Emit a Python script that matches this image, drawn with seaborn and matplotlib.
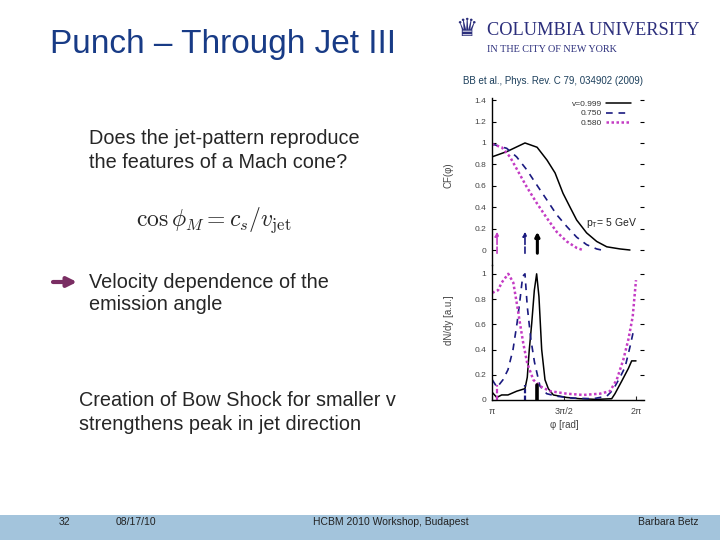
import numpy as np
import pandas as pd
import matplotlib
matplotlib.use("Agg")
import matplotlib.pyplot as plt
from matplotlib.patches import Rectangle
import seaborn as sns

# ---------------- data (phi in units of pi) ----------------
series_labels = ["v=0.999", "0.750", "0.580"]

# top panel: CF(phi)
top_phi_999 = [1.000, 1.104, 1.229, 1.313, 1.382, 1.438, 1.493, 1.542, 1.588, 1.657, 1.727, 1.797, 1.889, 1.958]
top_val_999 = [0.87, 0.92, 1.00, 0.96, 0.84, 0.72, 0.53, 0.40, 0.28, 0.16, 0.08, 0.03, 0.01, 0.00]
top_phi_750 = [1.000, 1.102, 1.171, 1.241, 1.310, 1.380, 1.449, 1.519, 1.588, 1.657, 1.727, 1.760]
top_val_750 = [0.99, 0.95, 0.87, 0.75, 0.61, 0.47, 0.33, 0.22, 0.12, 0.05, 0.01, 0.00]
top_phi_580 = [1.000, 1.067, 1.125, 1.183, 1.241, 1.310, 1.380, 1.449, 1.519, 1.588, 1.630]
top_val_580 = [0.99, 0.96, 0.87, 0.73, 0.59, 0.44, 0.30, 0.17, 0.08, 0.02, 0.00]

# bottom panel: dN/dy
bot_phi_999 = [1.002, 1.033, 1.067, 1.111, 1.172, 1.229, 1.245, 1.259, 1.276, 1.294, 1.310, 1.326,
               1.345, 1.368, 1.391, 1.426, 1.519, 1.611, 1.727, 1.831, 1.854, 1.901, 1.947, 1.970, 2.000]
bot_val_999 = [0.06, 0.02, 0.04, 0.04, 0.07, 0.09, 0.18, 0.40, 0.61, 0.87, 1.00, 0.82,
               0.40, 0.16, 0.09, 0.04, 0.02, 0.01, 0.005, 0.01, 0.05, 0.15, 0.25, 0.31, 0.31]
bot_phi_750 = [1.002, 1.035, 1.076, 1.111, 1.146, 1.174, 1.194, 1.213, 1.229, 1.245, 1.270, 1.295,
               1.313, 1.333, 1.380, 1.449, 1.563, 1.701, 1.797, 1.840, 1.889, 1.924, 1.958, 1.979]
bot_val_750 = [0.16, 0.10, 0.16, 0.24, 0.40, 0.61, 0.79, 0.98, 1.00, 0.74, 0.48, 0.30,
               0.21, 0.11, 0.05, 0.03, 0.015, 0.01, 0.03, 0.08, 0.18, 0.26, 0.42, 0.53]
bot_phi_580 = [1.002, 1.042, 1.067, 1.113, 1.148, 1.176, 1.194, 1.217, 1.245, 1.287, 1.333, 1.403,
               1.519, 1.634, 1.750, 1.819, 1.866, 1.912, 1.947, 1.977, 2.000]
bot_val_580 = [0.85, 0.87, 0.93, 1.00, 0.93, 0.74, 0.61, 0.45, 0.29, 0.16, 0.11, 0.07,
               0.05, 0.04, 0.05, 0.07, 0.16, 0.32, 0.48, 0.66, 0.95]

# Mach-angle markers (phi / pi)
mach_pos = [1.315, 1.229, 1.035]

top_yticks = [0, 0.2, 0.4, 0.6, 0.8, 1, 1.2, 1.4]
bot_yticks = [0, 0.2, 0.4, 0.6, 0.8, 1]
x_ticks = [1.0, 1.5, 2.0]
x_ticklabels = ["π", "3π/2", "2π"]

# ---------------- style ----------------
sns.set_theme(style="white")
plt.rcParams["font.family"] = ["Liberation Sans", "DejaVu Sans"]
plt.rcParams["mathtext.fontset"] = "cm"

W, H = 720, 540
fig = plt.figure(figsize=(7.2, 5.4), dpi=100)
fig.patch.set_facecolor("white")


def fx(x):
    return x / W


def fy(y):
    return 1 - y / H


colors = ["#000000", "#1a1a80", "#c43cc4"]
styles = ["-", (0, (4, 3.5)), (0, (1, 1))]
widths = [1.1, 1.2, 1.8]

ax1 = fig.add_axes([fx(492), fy(265), (644 - 492) / W, (265 - 98) / H])
ax2 = fig.add_axes([fx(492), fy(400), (644 - 492) / W, (400 - 265) / H])

top = [(top_phi_999, top_val_999), (top_phi_750, top_val_750), (top_phi_580, top_val_580)]
bot = [(bot_phi_999, bot_val_999), (bot_phi_750, bot_val_750), (bot_phi_580, bot_val_580)]

handles = []
for i, ((px, pv), (bx, bv)) in enumerate(zip(top, bot)):
    dft = pd.DataFrame({"phi": np.pi * np.array(px), "v": pv})
    dfb = pd.DataFrame({"phi": np.pi * np.array(bx), "v": bv})
    sns.lineplot(data=dft, x="phi", y="v", ax=ax1, color=colors[i], linestyle=styles[i],
                 lw=widths[i], estimator=None, sort=False)
    sns.lineplot(data=dfb, x="phi", y="v", ax=ax2, color=colors[i], linestyle=styles[i],
                 lw=widths[i], estimator=None, sort=False)
    handles.append(ax1.get_lines()[-1])

# Mach angle arrows / markers
arrow_w = [2.2, 1.2, 1.2]
for i, m in enumerate(mach_pos):
    ax1.annotate("", xy=(np.pi * m, 0.17), xytext=(np.pi * m, -0.03),
                 arrowprops=dict(arrowstyle="-|>", color=colors[i], lw=arrow_w[i],
                                 mutation_scale=6, shrinkA=0, shrinkB=0,
                                 linestyle="-" if i == 0 else "--"))
    ax2.plot([np.pi * m, np.pi * m], [0, 0.12], color=colors[i], lw=arrow_w[i] + 0.4,
             linestyle="-" if i == 0 else (0, (2, 1)))

xmax = 2 * np.pi + np.pi * 8 / 144
for ax in (ax1, ax2):
    ax.set_xlim(np.pi, xmax)
    ax.set_facecolor("none")
    for s in ("top", "right"):
        ax.spines[s].set_visible(False)
    ax.spines["left"].set_color("black")
    ax.spines["left"].set_linewidth(1.0)
    ax.tick_params(axis="y", which="both", left=True, right=True, direction="in",
                   length=3, width=0.8, labelsize=6, colors="black", labelcolor="#444444", pad=4)

ax1.spines["bottom"].set_visible(False)
ax1.set_ylim(-0.14, 1.42)
ax1.set_yticks(top_yticks)
ax1.set_yticklabels([f"{v:g}" for v in top_yticks])
ax1.set_xticks([])
ax1.set_xlabel("")
ax1.set_ylabel("CF(φ)", fontsize=7, color="#444444")
ax1.yaxis.set_label_coords(-0.25, 0.54)

ax2.spines["bottom"].set_color("black")
ax2.spines["bottom"].set_linewidth(1.0)
ax2.set_ylim(0, 1.07)
ax2.set_yticks(bot_yticks)
ax2.set_yticklabels([f"{v:g}" for v in bot_yticks])
ax2.set_xticks([np.pi * t for t in x_ticks])
ax2.set_xticklabels(x_ticklabels)
ax2.tick_params(axis="x", bottom=True, direction="in", length=3, width=0.8,
                labelsize=6.5, labelcolor="#444444", pad=5)
ax2.set_xlabel("φ [rad]", fontsize=7, color="#444444")
ax2.xaxis.set_label_coords(0.474, -0.15)
ax2.set_ylabel("dN/dy [a.u.]", fontsize=7, color="#444444")
ax2.yaxis.set_label_coords(-0.25, 0.59)

ax1.legend(handles, series_labels, loc="upper right", bbox_to_anchor=(0.914, 0.985),
           markerfirst=False, frameon=False, fontsize=6, handlelength=3,
           handletextpad=0.5, labelspacing=0.15, borderaxespad=0, borderpad=0,
           labelcolor="#333333")
fig.text(fx(586), fy(223), r"p$_\mathregular{T}$= 5 GeV", fontsize=7.5, va="center", ha="left",
         color="#222222", math_fontfamily="dejavusans")

# ---------------- slide decoration ----------------
fig.add_artist(Rectangle((0, 0), 1, 25 / H, transform=fig.transFigure,
                         facecolor="#a3c4dc", edgecolor="none", zorder=0))

fig.text(fx(50), fy(45), "Punch – Through Jet III", fontsize=24, color="#183b86",
         va="center", ha="left")

logo_c = "#2c2f7c"
fig.text(fx(466), fy(29), "♛", fontsize=18, color=logo_c, va="center", ha="center",
         family="DejaVu Sans")
fig.text(fx(487), fy(31), "COLUMBIA UNIVERSITY", fontsize=13.2, color=logo_c,
         va="center", ha="left", family="Liberation Serif")
fig.text(fx(487), fy(50), "IN THE CITY OF NEW YORK", fontsize=7.3, color=logo_c,
         va="center", ha="left", family="Liberation Serif")

fig.text(fx(463), fy(81), "BB et al., Phys. Rev. C 79, 034902 (2009)", fontsize=7,
         color="#1c3f5c", va="center", ha="left")

body = 14.3
fig.text(fx(89), fy(139), "Does the jet-pattern reproduce", fontsize=body, va="center", ha="left")
fig.text(fx(89), fy(162), "the features of a Mach cone?", fontsize=body, va="center", ha="left")
fig.text(fx(214), fy(220), r"$\cos\phi_M = c_s/v_{\rm jet}$", fontsize=17, va="center",
         ha="center")
fig.text(fx(89), fy(282), "Velocity dependence of the", fontsize=body, va="center", ha="left")
fig.text(fx(89), fy(305), "emission angle", fontsize=body, va="center", ha="left")
fig.text(fx(79), fy(400), "Creation of Bow Shock for smaller v", fontsize=body, va="center",
         ha="left")
fig.text(fx(79), fy(424), "strengthens peak in jet direction", fontsize=body, va="center",
         ha="left")
fig.add_artist(plt.Annotation("", xy=(77, H - 282), xytext=(53, H - 282),
                              xycoords="figure pixels", textcoords="figure pixels",
                              arrowprops=dict(arrowstyle="-|>", color="#7a2e63", lw=3,
                                              mutation_scale=14, shrinkA=0, shrinkB=0)))

foot = 7.5
fig.text(fx(64), fy(522), "32", fontsize=foot, va="center", ha="center", color="#222222")
fig.text(fx(136), fy(522), "08/17/10", fontsize=foot, va="center", ha="center", color="#222222")
fig.text(fx(391), fy(522), "HCBM 2010 Workshop, Budapest", fontsize=foot, va="center",
         ha="center", color="#222222")
fig.text(fx(668), fy(522), "Barbara Betz", fontsize=foot, va="center", ha="center",
         color="#222222")

fig.savefig("out.png", dpi=100, facecolor="white")
